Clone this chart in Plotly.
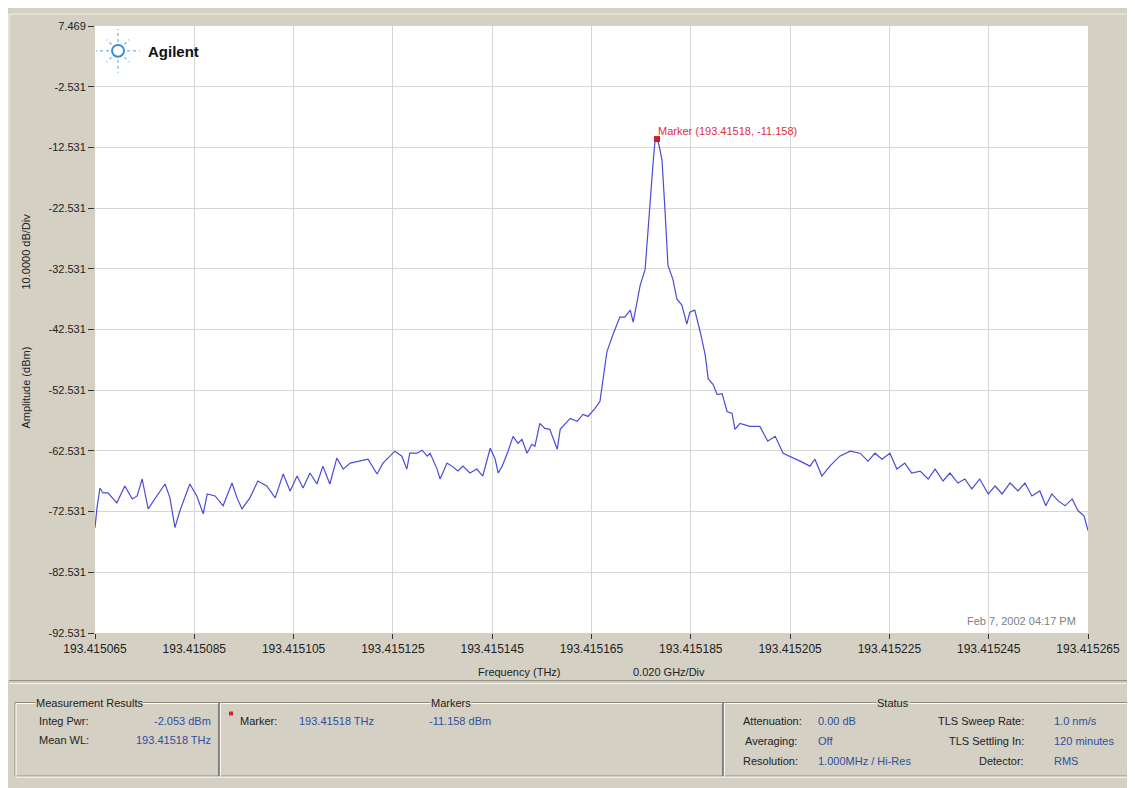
import math
import plotly.graph_objects as go

# ---------------- data ----------------
freq_thz = [
    193.4150650, 193.4150654, 193.4150660, 193.4150666, 193.4150676, 193.4150694, 193.4150710,
    193.4150725, 193.4150735, 193.4150745, 193.4150757, 193.4150775, 193.4150791, 193.4150801,
    193.4150811, 193.4150821, 193.4150841, 193.4150855, 193.4150868, 193.4150876, 193.4150892,
    193.4150908, 193.4150926, 193.4150936, 193.4150946, 193.4150962, 193.4150978, 193.4150996,
    193.4151013, 193.4151029, 193.4151043, 193.4151057, 193.4151069, 193.4151083, 193.4151097,
    193.4151109, 193.4151123, 193.4151137, 193.4151150, 193.4151164, 193.4151184, 193.4151200,
    193.4151218, 193.4151230, 193.4151254, 193.4151268, 193.4151278, 193.4151284, 193.4151299,
    193.4151309, 193.4151319, 193.4151325, 193.4151339, 193.4151345, 193.4151359, 193.4151369,
    193.4151381, 193.4151391, 193.4151405, 193.4151419, 193.4151431, 193.4151446, 193.4151456,
    193.4151462, 193.4151470, 193.4151482, 193.4151492, 193.4151502, 193.4151510, 193.4151520,
    193.4151530, 193.4151536, 193.4151546, 193.4151556, 193.4151566, 193.4151581, 193.4151587,
    193.4151607, 193.4151621, 193.4151633, 193.4151643, 193.4151657, 193.4151667, 193.4151671,
    193.4151681, 193.4151693, 193.4151707, 193.4151717, 193.4151728, 193.4151734, 193.4151742,
    193.4151748, 193.4151758, 193.4151764, 193.4151768, 193.4151774, 193.4151778, 193.4151782,
    193.4151786, 193.4151792, 193.4151798, 193.4151804, 193.4151814, 193.4151822, 193.4151832,
    193.4151842, 193.4151848, 193.4151858, 193.4151869, 193.4151879, 193.4151885, 193.4151895,
    193.4151903, 193.4151913, 193.4151923, 193.4151933, 193.4151939, 193.4151949, 193.4151969,
    193.4151989, 193.4152005, 193.4152020, 193.4152036, 193.4152050, 193.4152070, 193.4152090,
    193.4152100, 193.4152114, 193.4152130, 193.4152150, 193.4152171, 193.4152191, 193.4152207,
    193.4152221, 193.4152235, 193.4152251, 193.4152265, 193.4152281, 193.4152295, 193.4152312,
    193.4152328, 193.4152342, 193.4152358, 193.4152372, 193.4152388, 193.4152402, 193.4152416,
    193.4152432, 193.4152449, 193.4152463, 193.4152477, 193.4152493, 193.4152509, 193.4152523,
    193.4152537, 193.4152553, 193.4152565, 193.4152577, 193.4152590, 193.4152604, 193.4152618,
    193.4152630, 193.4152642, 193.4152650,
]
amplitude_dbm = [
    -75.18, -71.91, -68.64, -69.46, -69.46, -71.09, -68.31,
    -70.44, -69.95, -67.16, -72.07, -69.95, -67.98, -70.27,
    -75.18, -72.40, -67.98, -69.95, -72.89, -69.62, -69.95,
    -71.58, -67.82, -70.27, -72.07, -70.27, -67.49, -68.31,
    -70.27, -66.34, -69.13, -66.67, -68.64, -66.18, -67.98,
    -65.04, -67.98, -63.73, -65.53, -64.54, -64.22, -63.89,
    -66.34, -64.54, -62.58, -63.40, -65.53, -62.91, -62.91,
    -62.42, -63.40, -62.91, -65.53, -67.16, -64.54, -65.04,
    -65.85, -65.04, -66.18, -65.53, -66.67, -62.09, -63.89,
    -66.18, -65.04, -62.58, -60.13, -61.27, -60.62, -62.91,
    -61.44, -61.76, -58.00, -58.82, -58.98, -62.25, -58.98,
    -57.18, -57.67, -56.52, -56.85, -55.54, -54.40, -52.27,
    -46.21, -43.43, -40.49, -40.49, -39.34, -41.30, -37.54,
    -35.25, -32.63, -25.43, -20.84, -15.12, -11.35, -11.158,
    -12.17, -14.63, -22.81, -31.97, -34.27, -37.54, -38.52,
    -41.63, -39.67, -39.34, -42.94, -46.70, -50.63, -51.61,
    -53.25, -53.09, -56.03, -56.36, -58.98, -58.00, -58.49,
    -58.49, -60.94, -60.13, -62.91, -63.40, -64.22, -65.04,
    -63.89, -66.67, -65.04, -63.40, -62.58, -62.91, -64.22,
    -62.91, -63.89, -62.91, -65.53, -64.54, -66.18, -65.85,
    -67.16, -65.53, -67.49, -66.18, -67.82, -67.16, -68.80,
    -67.16, -69.62, -68.31, -69.62, -67.82, -69.13, -67.82,
    -69.95, -69.13, -71.58, -69.62, -70.77, -71.58, -70.44,
    -72.40, -73.22, -75.67,
]
marker_freq = 193.4151782
marker_amp = -11.158

x_tick_vals = [193.415065, 193.415085, 193.415105, 193.415125, 193.415145, 193.415165,
               193.415185, 193.415205, 193.415225, 193.415245, 193.415265]
x_tick_text = ["193.415065", "193.415085", "193.415105", "193.415125", "193.415145", "193.415165",
               "193.415185", "193.415205", "193.415225", "193.415245", "193.415265"]
y_tick_vals = [-92.531, -82.531, -72.531, -62.531, -52.531, -42.531, -32.531, -22.531, -12.531, -2.531, 7.469]
y_tick_text = ["-92.531", "-82.531", "-72.531", "-62.531", "-52.531", "-42.531", "-32.531", "-22.531",
               "-12.531", "-2.531", "7.469"]

# ---------------- layout helpers (page pixel -> paper) ----------------
OFF = 8                      # page body margin added by the browser
W, H = 1135 - OFF, 788 - OFF  # figure size so that it fills the window
PL, PR, PT, PB = 95, 1088, 22, 633   # plot area in page pixels
def px(x):
    return (x - PL) / (PR - PL)
def py(y):
    return (PB - y) / (PB - PT)

BG = "#D4D0C4"
FONT = "Liberation Sans, Arial, sans-serif"
BLUE_TXT = "#2E4FA0"
DARK = "#222222"

fig = go.Figure()
fig.add_trace(go.Scatter(x=freq_thz, y=amplitude_dbm, mode="lines",
                         line=dict(color="#4B4BD8", width=1.2), hoverinfo="x+y", showlegend=False))
fig.add_trace(go.Scatter(x=[marker_freq], y=[marker_amp], mode="markers",
                         marker=dict(symbol="square", size=6, color="#C0202A"), showlegend=False))

shapes = []
annotations = []

def text(x, y, s, color=DARK, size=11, xanchor="left", bg=None, bold=False):
    a = dict(x=px(x), y=py(y), xref="paper", yref="paper", text=("<b>%s</b>" % s) if bold else s,
             showarrow=False, xanchor=xanchor, yanchor="middle",
             font=dict(family=FONT, size=size, color=color))
    if bg:
        a["bgcolor"] = bg
        a["borderpad"] = 0
    annotations.append(a)

def line(x0, y0, x1, y1, color="#8A877C", width=1):
    shapes.append(dict(type="line", xref="paper", yref="paper", x0=px(x0), y0=py(y0), x1=px(x1), y1=py(y1),
                       line=dict(color=color, width=width), layer="below"))

# chart panel frame
line(9, 10, 1129, 10, "#F4F2EA")
line(9, 10, 9, 680, "#F4F2EA")
line(9, 681, 1129, 681, "#8A877C")
line(1129, 10, 1129, 681, "#8A877C")
line(9, 684, 1131, 684, "#F4F2EA")

# bottom group boxes (etched)
for (x0, x1) in [(15, 219), (219, 723), (723, 1130)]:
    for off, col in [(0, "#8A877C"), (1, "#FFFFFF")]:
        shapes.append(dict(type="rect", xref="paper", yref="paper",
                           x0=px(x0 + off), x1=px(x1 + off), y0=py(777 + off), y1=py(703 + off),
                           line=dict(color=col, width=1), layer="below"))
line(219, 703, 219, 777, "#555555")
line(723, 703, 723, 777, "#555555")

# Agilent logo
cx, cy = 118, 47
shapes.append(dict(type="circle", xref="paper", yref="paper", x0=px(cx - 6), x1=px(cx + 6),
                   y0=py(cy + 6), y1=py(cy - 6), line=dict(color="#3D8AD6", width=2)))
for k in range(8):
    ang = k * math.pi / 4
    r_out = 22 if k % 2 == 0 else 16
    shapes.append(dict(type="line", xref="paper", yref="paper",
                       x0=px(cx + 9 * math.cos(ang)), y0=py(cy - 9 * math.sin(ang)),
                       x1=px(cx + r_out * math.cos(ang)), y1=py(cy - r_out * math.sin(ang)),
                       line=dict(color="#8CC0EC", width=1.5, dash="dot")))
text(146, 48, "Agilent", color="#111111", size=15, bold=True)

# marker label
text(656, 128, "Marker (193.41518, -11.158)", color="#E0303A", size=11)
# date
text(1078, 621, "Feb 7, 2002 04:17 PM", color="#808080", size=11, xanchor="right")

# axis titles
text(519, 672, "Frequency (THz)", size=11, xanchor="center")
text(669, 672, "0.020 GHz/Div", size=11, xanchor="center")
for (yy, s) in [(249, "10.0000 dB/Div"), (386, "Amplitude (dBm)")]:
    annotations.append(dict(x=px(26), y=py(yy), xref="paper", yref="paper", text=s, textangle=-90,
                            showarrow=False, xanchor="center", yanchor="middle",
                            font=dict(family=FONT, size=11, color=DARK)))

# bottom panel texts
text(35, 703, "Measurement Results", size=11, bg=BG)
text(37, 722, "Integ Pwr:")
text(213, 722, "-2.053 dBm", color=BLUE_TXT, xanchor="right")
text(37, 741, "Mean WL:")
text(213, 741, "193.41518 THz", color=BLUE_TXT, xanchor="right")

text(451, 703, "Markers", size=11, xanchor="center", bg=BG)
shapes.append(dict(type="rect", xref="paper", yref="paper", x0=px(229), x1=px(233), y0=py(716), y1=py(712),
                   fillcolor="#E02020", line=dict(width=0)))
text(238, 722, "Marker:")
text(297, 722, "193.41518 THz", color=BLUE_TXT)
text(427, 722, "-11.158 dBm", color=BLUE_TXT)

text(893, 703, "Status", size=11, xanchor="center", bg=BG)
text(741, 722, "Attenuation:")
text(816, 722, "0.00 dB", color=BLUE_TXT)
text(743, 742, "Averaging:")
text(816, 742, "Off", color=BLUE_TXT)
text(741, 762, "Resolution:")
text(816, 762, "1.000MHz / Hi-Res", color=BLUE_TXT)
text(1026, 722, "TLS Sweep Rate:", xanchor="right")
text(1052, 722, "1.0 nm/s", color=BLUE_TXT)
text(1026, 742, "TLS Settling In:", xanchor="right")
text(1052, 742, "120 minutes", color=BLUE_TXT)
text(1026, 762, "Detector:", xanchor="right")
text(1052, 762, "RMS", color=BLUE_TXT)

fig.update_layout(
    width=W, height=H, autosize=False,
    margin=dict(l=PL - OFF, r=(W + OFF) - PR, t=PT - OFF, b=(H + OFF) - PB, pad=0),
    paper_bgcolor=BG, plot_bgcolor="#FFFFFF",
    shapes=shapes, annotations=annotations,
    font=dict(family=FONT, size=12, color=DARK),
    xaxis=dict(range=[193.415065, 193.415265], tickmode="array", tickvals=x_tick_vals, ticktext=x_tick_text,
               showgrid=True, gridcolor="#D6D6D6", gridwidth=1, zeroline=False,
               ticks="outside", ticklen=5, tickcolor="#333333", tickwidth=1,
               tickfont=dict(family=FONT, size=12, color=DARK), showline=False, fixedrange=True),
    yaxis=dict(range=[-92.531, 7.469], tickmode="array", tickvals=y_tick_vals, ticktext=y_tick_text,
               showgrid=True, gridcolor="#D6D6D6", gridwidth=1, zeroline=False,
               ticks="outside", ticklen=6, tickcolor="#333333", tickwidth=1,
               tickfont=dict(family=FONT, size=11, color=DARK), showline=False, fixedrange=True),
    hovermode="closest",
)

fig.write_html("out.html")
